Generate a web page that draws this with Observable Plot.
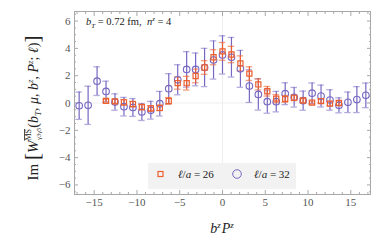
<!DOCTYPE html>
<html>
<head>
<meta charset="utf-8">
<script src="https://cdn.jsdelivr.net/npm/d3@7"></script>
<script src="https://cdn.jsdelivr.net/npm/@observablehq/plot@0.6"></script>
<style>
  html, body { margin: 0; padding: 0; background: white; }
  #chart { width: 382px; height: 243px; }
</style>
</head>
<body>
<div id="chart"></div>
<script>
// b^z P^z values for ℓ/a = 32 (circles)
const xCirc = [-16.755, -15.708, -14.661, -13.614, -12.566, -11.519, -10.472, -9.425, -8.378, -7.330, -6.283, -5.236, -4.189, -3.142, -2.094, -1.047, 0,
               1.047, 2.094, 3.142, 4.189, 5.236, 6.283, 7.330, 8.378, 9.425, 10.472, 11.519, 12.566, 13.614, 14.661, 15.708, 16.755];
const yCirc = [-0.2, -0.17, 1.6, 0.85, 0.07, -0.27, -0.33, -0.66, -0.53, -0.05, 1.05, 1.7, 2.46, 2.46, 2.6, 3.15, 3.52,
               3.35, 2.5, 1.24, 0.63, 0.1, 0.1, 0.68, 0.42, 0.17, 0.72, 0.51, 0.22, -0.17, 0.05, 0.25, 0.56];
const eCirc = [1.0, 1.4, 1.05, 0.75, 0.6, 0.68, 0.65, 0.62, 0.65, 0.9, 1.1, 1.1, 1.3, 1.2, 1.4, 1.4, 1.4,
               1.45, 1.35, 1.2, 1.15, 0.85, 0.75, 0.8, 0.72, 0.7, 0.75, 0.8, 0.75, 0.55, 0.75, 0.95, 0.9];
// b^z P^z values for ℓ/a = 26 (squares)
const xSq = [-13.614, -12.566, -11.519, -10.472, -9.425, -8.378, -7.330, -6.283, -5.236, -4.189, -3.142, -2.094, -1.047, 0,
             1.047, 2.094, 3.142, 4.189, 5.236, 6.283, 7.330, 8.378, 9.425, 10.472, 11.519, 12.566, 13.614];
const ySq = [0.15, 0.12, 0.05, -0.08, -0.3, -0.4, -0.36, 0.15, 1.46, 1.45, 1.98, 2.6, 3.35, 3.78,
             3.55, 2.9, 2.15, 1.36, 0.86, 0.32, 0.3, 0.38, 0.18, 0.03, 0.14, -0.05, 0.0];
const eSq = [0.12, 0.15, 0.2, 0.2, 0.2, 0.2, 0.2, 0.25, 0.45, 0.5, 0.5, 0.5, 0.55, 0.65,
             0.6, 0.55, 0.5, 0.4, 0.35, 0.3, 0.25, 0.2, 0.15, 0.12, 0.15, 0.15, 0.15];

const xTicks = [-15, -10, -5, 0, 5, 10, 15];
const yTicks = [-6, -4, -2, 0, 2, 4, 6];
const xMinor = [-17,-16,-14,-13,-12,-11,-9,-8,-7,-6,-4,-3,-2,-1,1,2,3,4,6,7,8,9,11,12,13,14,16,17];
const yMinor = [-6.5,-5.5,-5,-4.5,-3.5,-3,-2.5,-1.5,-1,-0.5,0.5,1,1.5,2.5,3,3.5,4.5,5,5.5,6.5];

const circ = xCirc.map((x, i) => ({x, y: yCirc[i], e: eCirc[i]}));
const sq = xSq.map((x, i) => ({x, y: ySq[i], e: eSq[i]}));

const ORANGE = "#ec5f2f";
const PURPLE = "#7767c2";
const capW = 0.38;
const FRAME = "#a8a8a8";

const plot = Plot.plot({
  width: 382, height: 243,
  marginLeft: 74, marginRight: 12, marginTop: 11, marginBottom: 49,
  x: {domain: [-17.3, 17.3]},
  y: {domain: [-6.7, 6.7]},
  style: {fontFamily: "'Liberation Serif', 'DejaVu Serif', serif", fontSize: "11px", color: "#555", background: "white"},
  marks: [
    Plot.ruleX([0], {stroke: "#efefef"}),
    Plot.ruleY([0], {stroke: "#efefef"}),
    // frame ticks
    Plot.axisX({anchor: "bottom", ticks: xTicks, tickSize: -4, tickPadding: 8, stroke: FRAME, label: null}),
    Plot.axisX({anchor: "bottom", ticks: xMinor, tickSize: -2, tickFormat: () => "", stroke: FRAME, label: null}),
    Plot.axisX({anchor: "top", ticks: xTicks, tickSize: -4, tickFormat: () => "", stroke: FRAME, label: null}),
    Plot.axisX({anchor: "top", ticks: xMinor, tickSize: -2, tickFormat: () => "", stroke: FRAME, label: null}),
    Plot.axisY({anchor: "left", ticks: yTicks, tickSize: -4, tickPadding: 8, stroke: FRAME, label: null}),
    Plot.axisY({anchor: "left", ticks: yMinor, tickSize: -2, tickFormat: () => "", stroke: FRAME, label: null}),
    Plot.axisY({anchor: "right", ticks: yTicks, tickSize: -4, tickFormat: () => "", stroke: FRAME, label: null}),
    Plot.axisY({anchor: "right", ticks: yMinor, tickSize: -2, tickFormat: () => "", stroke: FRAME, label: null}),
    Plot.frame({stroke: FRAME}),
    // ℓ/a = 32 error bars
    Plot.ruleX(circ, {x: "x", y1: d => d.y - d.e, y2: d => d.y + d.e, stroke: PURPLE, strokeWidth: 1.2}),
    Plot.ruleY(circ, {y: d => d.y + d.e, x1: d => d.x - capW, x2: d => d.x + capW, stroke: PURPLE, strokeOpacity: 0.55, strokeWidth: 1.3}),
    Plot.ruleY(circ, {y: d => d.y - d.e, x1: d => d.x - capW, x2: d => d.x + capW, stroke: PURPLE, strokeOpacity: 0.55, strokeWidth: 1.3}),
    // ℓ/a = 26 error bars
    Plot.ruleX(sq, {x: "x", y1: d => d.y - d.e, y2: d => d.y + d.e, stroke: ORANGE, strokeWidth: 1.2}),
    Plot.ruleY(sq, {y: d => d.y + d.e, x1: d => d.x - capW, x2: d => d.x + capW, stroke: ORANGE, strokeOpacity: 0.6, strokeWidth: 1.3}),
    Plot.ruleY(sq, {y: d => d.y - d.e, x1: d => d.x - capW, x2: d => d.x + capW, stroke: ORANGE, strokeOpacity: 0.6, strokeWidth: 1.3}),
    // points
    Plot.dot(circ, {x: "x", y: "y", r: 3.3, stroke: PURPLE, fill: "white", fillOpacity: 0, strokeWidth: 1.1}),
    Plot.dot(sq, {x: "x", y: "y", symbol: "square", r: 2.9, stroke: ORANGE, fill: "none", strokeWidth: 1.2})
  ]
});

document.getElementById("chart").appendChild(plot);

const svg = d3.select(plot);
const SERIF = "'Liberation Serif', 'DejaVu Serif', serif";

function richText(parent, parts, attrs) {
  const t = parent.append("text").attr("font-family", SERIF).attr("fill", "#222").attr("text-anchor", "start");
  for (const [k, v] of Object.entries(attrs)) t.attr(k, v);
  let prev = 0;
  for (const p of parts) {
    const s = p.shift || 0;
    const ts = t.append("tspan").text(p.t)
      .attr("font-size", p.size)
      .attr("dy", prev - s);
    if (p.dx) ts.attr("dx", p.dx);
    if (p.it) ts.attr("font-style", "italic");
    if (p.over) ts.attr("text-decoration", "overline");
    prev = s;
  }
  return t;
}

// annotation
richText(svg, [
  {t: "b", it: true, size: 10.5},
  {t: "T", it: true, size: 7, shift: -2.5},
  {t: " = 0.72 fm,  ", size: 10.5},
  {t: "n", it: true, size: 10.5},
  {t: "z", it: true, size: 7, shift: 4},
  {t: " = 4", size: 10.5}
], {x: 86, y: 25});

// x label
richText(svg, [
  {t: "b", it: true, size: 14},
  {t: "z", it: true, size: 9, shift: 5},
  {t: "P", it: true, size: 14, dx: 1},
  {t: "z", it: true, size: 9, shift: 5}
], {x: 222, y: 233, "text-anchor": "middle"});

// y label
richText(svg, [
  {t: "Im ", size: 15},
  {t: "[", size: 21, shift: -1},
  {t: "W", it: true, size: 15},
  {t: "MS", size: 8, shift: 7, over: true},
  {t: "γ3γ5", size: 6.5, shift: -3, dx: -11},
  {t: "(", size: 14},
  {t: "b", it: true, size: 14},
  {t: "T", it: true, size: 9, shift: -3},
  {t: ", ", size: 14},
  {t: "μ", it: true, size: 14},
  {t: ", ", size: 14},
  {t: "b", it: true, size: 14},
  {t: "z", it: true, size: 9, shift: 5},
  {t: ", ", size: 14},
  {t: "P", it: true, size: 14},
  {t: "z", it: true, size: 9, shift: 5},
  {t: "; ", size: 14},
  {t: "ℓ", it: true, size: 14},
  {t: ")", size: 14},
  {t: "]", size: 21, shift: -1}
], {transform: "translate(38,108) rotate(-90)", "text-anchor": "middle"});

// legend
const lg = svg.append("g");
lg.append("rect").attr("x", 148).attr("y", 163).attr("width", 148).attr("height", 26).attr("fill", "#f2f2f2");
lg.append("rect").attr("x", 158).attr("y", 171.5).attr("width", 5).attr("height", 5)
  .attr("fill", "none").attr("stroke", ORANGE).attr("stroke-width", 1.2);
richText(lg, [
  {t: "ℓ", it: true, size: 11}, {t: "/", size: 11}, {t: "a", it: true, size: 11}, {t: " = 26", size: 11}
], {x: 178, y: 178});
lg.append("circle").attr("cx", 237).attr("cy", 174).attr("r", 4.3)
  .attr("fill", "none").attr("stroke", PURPLE).attr("stroke-width", 1);
richText(lg, [
  {t: "ℓ", it: true, size: 11}, {t: "/", size: 11}, {t: "a", it: true, size: 11}, {t: " = 32", size: 11}
], {x: 254, y: 178});
</script>
</body>
</html>
